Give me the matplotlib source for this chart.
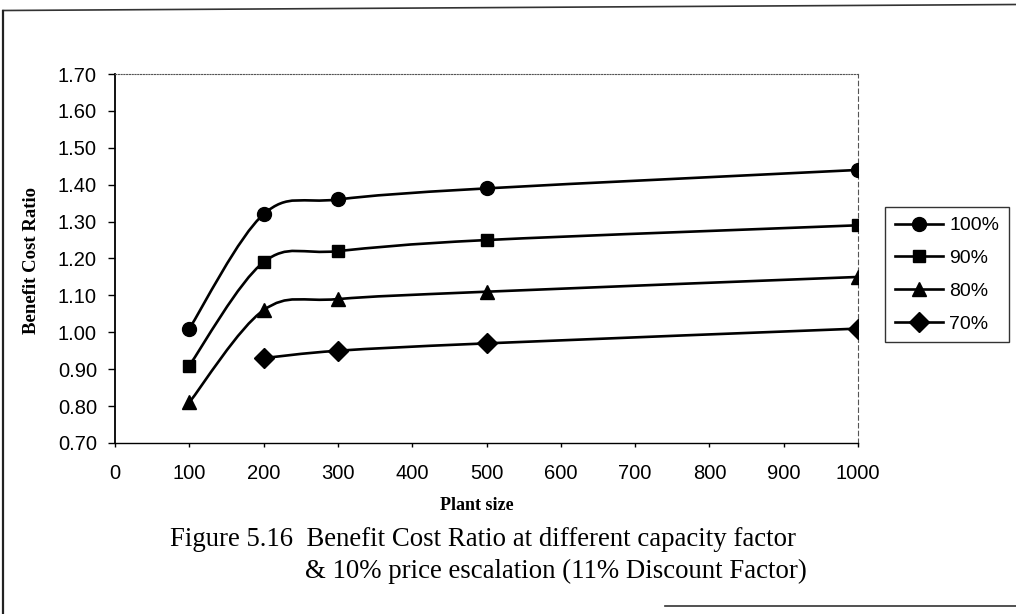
import numpy as np
import matplotlib
matplotlib.use("Agg")
import matplotlib.pyplot as plt
from matplotlib.path import Path
from matplotlib.patches import PathPatch
from matplotlib.lines import Line2D
from matplotlib.ticker import FormatStrFormatter, MultipleLocator

# Benefit cost ratio by plant size for each capacity factor
plant_size = [100, 200, 300, 500, 1000]
bcr_100 = [1.01, 1.32, 1.36, 1.39, 1.44]
bcr_90 = [0.91, 1.19, 1.22, 1.25, 1.29]
bcr_80 = [0.81, 1.06, 1.09, 1.11, 1.15]
plant_size_70 = [200, 300, 500, 1000]
bcr_70 = [0.93, 0.95, 0.97, 1.01]

series_labels = ["100%", "90%", "80%", "70%"]
series_markers = ["o", "s", "^", "D"]
series_ms = [10, 9, 10, 10]

W, H = 1016, 614


def smooth_path(x, y):
    """Cubic Bezier path through the points (Catmull-Rom style smoothing)."""
    pts = np.column_stack([x, y]).astype(float)
    n = len(pts)
    verts = [pts[0]]
    codes = [Path.MOVETO]
    for i in range(n - 1):
        p0 = pts[max(i - 1, 0)]
        p1 = pts[i]
        p2 = pts[i + 1]
        p3 = pts[min(i + 2, n - 1)]
        c1 = p1 + (p2 - p0) / 6.0
        c2 = p2 - (p3 - p1) / 6.0
        verts += [c1, c2, p2]
        codes += [Path.CURVE4] * 3
    return Path(verts, codes)


fig = plt.figure(figsize=(W / 100, H / 100), dpi=100)
fig.patch.set_facecolor("white")

left, right, top, bottom = 115, 858, 74, 443
ax = fig.add_axes([left / W, 1 - bottom / H, (right - left) / W, (bottom - top) / H])

all_x = [plant_size, plant_size, plant_size, plant_size_70]
all_y = [bcr_100, bcr_90, bcr_80, bcr_70]

handles = []
for xs, ys, mk, ms in zip(all_x, all_y, series_markers, series_ms):
    ax.add_patch(PathPatch(smooth_path(xs, ys), facecolor="none",
                           edgecolor="black", lw=1.9, zorder=2))
    ax.plot(xs, ys, linestyle="none", marker=mk, ms=ms, color="black",
            markeredgecolor="black", zorder=3)
    handles.append(Line2D([], [], color="black", lw=1.9, marker=mk, ms=ms))

ax.set_xlim(0, 1000)
ax.set_ylim(0.70, 1.70)
ax.xaxis.set_major_locator(MultipleLocator(100))
ax.yaxis.set_major_locator(MultipleLocator(0.1))
ax.yaxis.set_major_formatter(FormatStrFormatter("%.2f"))

for lab in ax.get_xticklabels() + ax.get_yticklabels():
    lab.set_fontfamily("Liberation Sans")
    lab.set_fontsize(14.5)
ax.tick_params(axis="y", direction="out", length=5, width=1, pad=8)
ax.tick_params(axis="x", direction="out", length=3, width=1, pad=12)

ax.spines["left"].set_linewidth(1.3)
ax.spines["bottom"].set_linewidth(1.0)
ax.spines["bottom"].set_linestyle((0, (3, 1)))
ax.spines["top"].set_linewidth(0.8)
ax.spines["top"].set_color("#555555")
ax.spines["top"].set_linestyle((0, (1, 1.5)))
ax.spines["right"].set_linewidth(0.8)
ax.spines["right"].set_color("#555555")
ax.spines["right"].set_linestyle((0, (4, 3)))

fig.text(32 / W, 1 - 260 / H, "Benefit Cost Ratio", rotation=90,
         ha="center", va="center", family="Liberation Serif",
         fontweight="bold", size=13.5)
fig.text(477 / W, 1 - 505 / H, "Plant size", ha="center", va="center",
         family="Liberation Serif", fontweight="bold", size=13)

leg = fig.legend(handles, series_labels, loc="upper left",
                 bbox_to_anchor=(885 / W, 1 - 207 / H),
                 bbox_transform=fig.transFigure, frameon=True, fancybox=False,
                 edgecolor="black", borderaxespad=0, handlelength=2.5,
                 handletextpad=0.3, labelspacing=0.78, borderpad=0.5,
                 prop=dict(family="Liberation Sans", size=14))
leg.get_frame().set_linewidth(1.0)

fig.text(170 / W, 1 - 540 / H,
         "Figure 5.16  Benefit Cost Ratio at different capacity factor",
         ha="left", va="center", family="Liberation Serif", size=19.3)
fig.text(305 / W, 1 - 571 / H,
         "& 10% price escalation (11% Discount Factor)",
         ha="left", va="center", family="Liberation Serif", size=19.3)

# page frame lines
fig.add_artist(Line2D([3 / W, 1.0], [1 - 10.5 / H, 1 - 4.5 / H],
                      transform=fig.transFigure, color="#333333", lw=1.2))
fig.add_artist(Line2D([3 / W, 3 / W], [1 - 10.5 / H, 0.0],
                      transform=fig.transFigure, color="#222222", lw=1.6))
fig.add_artist(Line2D([665 / W, 1.0], [1 - 606 / H, 1 - 606 / H],
                      transform=fig.transFigure, color="#333333", lw=1.2))

fig.savefig("out.png", dpi=100)
